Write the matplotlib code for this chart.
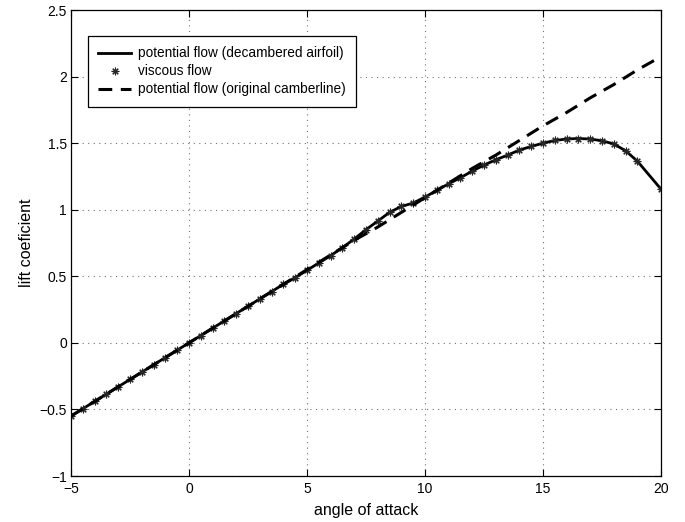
import numpy as np
import matplotlib
matplotlib.use("Agg")
import matplotlib.pyplot as plt

plt.rcParams["font.family"] = ["Liberation Sans", "DejaVu Sans"]

# angle of attack (deg) for the decambered / viscous runs
alpha = [-5, -4.5, -4, -3.5, -3, -2.5, -2, -1.5, -1, -0.5,
         0, 0.5, 1, 1.5, 2, 2.5, 3, 3.5, 4, 4.5,
         5, 5.5, 6, 6.5, 7, 7.5, 8, 8.5, 9, 9.5,
         10, 10.5, 11, 11.5, 12, 12.5, 13, 13.5, 14, 14.5,
         15, 15.5, 16, 16.5, 17, 17.5, 18, 18.5, 19, 20]

# potential flow, decambered airfoil
cl_decambered = [-0.55, -0.495, -0.44, -0.385, -0.33, -0.275, -0.22, -0.165, -0.11, -0.055,
                 0.0, 0.055, 0.11, 0.165, 0.22, 0.275, 0.33, 0.385, 0.44, 0.49,
                 0.545, 0.60, 0.655, 0.715, 0.78, 0.85, 0.915, 0.98, 1.025, 1.05,
                 1.095, 1.145, 1.195, 1.24, 1.29, 1.335, 1.375, 1.41, 1.448, 1.475,
                 1.50, 1.52, 1.531, 1.535, 1.531, 1.518, 1.494, 1.443, 1.365, 1.155]

# viscous flow solution
cl_viscous = [-0.55, -0.495, -0.44, -0.385, -0.33, -0.275, -0.22, -0.165, -0.11, -0.055,
              0.0, 0.055, 0.11, 0.165, 0.22, 0.275, 0.33, 0.385, 0.44, 0.49,
              0.545, 0.60, 0.655, 0.715, 0.78, 0.85, 0.915, 0.98, 1.025, 1.05,
              1.095, 1.145, 1.195, 1.24, 1.29, 1.335, 1.375, 1.41, 1.448, 1.475,
              1.50, 1.52, 1.531, 1.535, 1.531, 1.518, 1.494, 1.443, 1.365, 1.155]

# potential flow, original camberline
alpha_orig = [-5, -4, -3, -2, -1, 0, 1, 2, 3, 4, 5, 6, 7, 8, 9,
              10, 11, 12, 13, 14, 15, 16, 17, 18, 19, 20]
cl_orig = [-0.55, -0.44, -0.33, -0.22, -0.11, 0.0, 0.11, 0.22, 0.33, 0.44, 0.55, 0.66,
           0.77, 0.87, 0.98, 1.09, 1.20, 1.31, 1.41, 1.52, 1.63, 1.73, 1.84, 1.94,
           2.05, 2.15]

fig = plt.figure(figsize=(6.85, 5.22), dpi=100)
ax = fig.add_axes([0.1036, 0.0881, 0.8613, 0.8927])

ax.plot(alpha, cl_decambered, color="black", lw=2.0,
        label="potential flow (decambered airfoil)")
ax.plot(alpha, cl_viscous, ls="none", marker=(8, 2, 0), ms=5.5, mew=0.8,
        color="0.15", label="viscous flow")
ax.plot(alpha_orig, cl_orig, color="black", lw=2.2, dashes=(4.5, 2.8),
        label="potential flow (original camberline)")

ax.set_xlim(-5, 20)
ax.set_ylim(-1, 2.5)
ax.set_xticks(np.arange(-5, 21, 5))
ax.set_yticks(np.arange(-1, 2.51, 0.5))
ax.set_yticklabels(["\u22121", "\u22120.5", "0", "0.5", "1", "1.5", "2", "2.5"])
ax.set_xticklabels(["\u22125", "0", "5", "10", "15", "20"])

ax.grid(True, color="0.45", ls=(0, (1, 4)), lw=0.8)
ax.tick_params(direction="in", length=5, width=0.8, top=True, right=True,
               labelsize=10, color="black")
ax.tick_params(axis="x", pad=4)
ax.tick_params(axis="y", pad=3)
for s in ax.spines.values():
    s.set_linewidth(0.9)

ax.set_xlabel("angle of attack", fontsize=11.5)
ax.set_ylabel("lift coeficient", fontsize=11.5)
ax.xaxis.set_label_coords(0.5, -0.058)
ax.yaxis.set_label_coords(-0.063, 0.5)

leg = ax.legend(loc="upper left", bbox_to_anchor=(0.029, 0.944), borderaxespad=0,
                fontsize=9.8, handlelength=2.4, handletextpad=0.5, labelspacing=0.3,
                borderpad=0.75, fancybox=False, framealpha=1, edgecolor="black")
leg.get_frame().set_linewidth(0.9)

fig.savefig("out.png", dpi=100)
